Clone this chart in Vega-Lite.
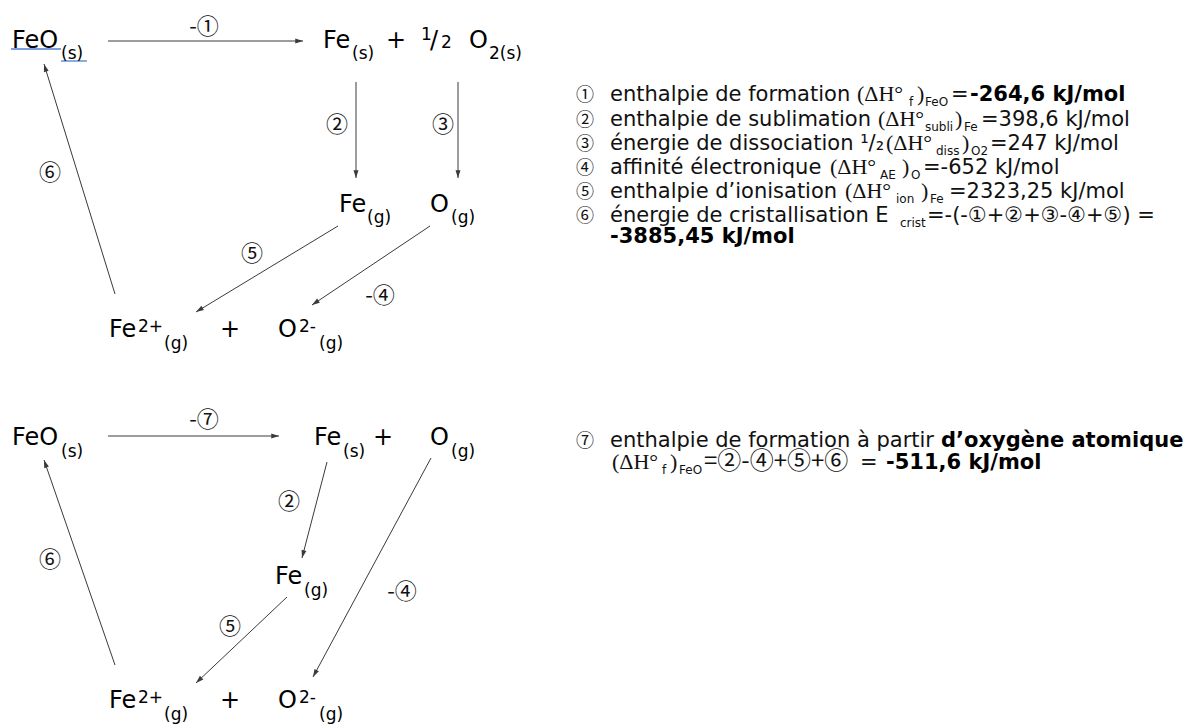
{
  "$schema": "https://vega.github.io/schema/vega-lite/v6.json",
  "width": 1186,
  "height": 724,
  "autosize": {"type": "fit", "contains": "padding"},
  "padding": 0,
  "background": "white",
  "config": {"view": {"stroke": null}},
  "datasets": {
    "t": [
      {"k": "big", "x": 12, "y": 48, "t": "FeO"},
      {"k": "sub", "x": 61, "y": 59, "t": "(s)"},
      {"k": "big", "x": 323, "y": 48, "t": "Fe"},
      {"k": "sub", "x": 352, "y": 59, "t": "(s)"},
      {"k": "big", "x": 386, "y": 48, "t": "+"},
      {"k": "sub", "x": 421, "y": 40, "t": "1"},
      {"k": "big", "x": 430, "y": 48, "t": "/"},
      {"k": "sub", "x": 441, "y": 48, "t": "2"},
      {"k": "big", "x": 469, "y": 48, "t": "O"},
      {"k": "sub", "x": 489, "y": 59, "t": "2(s)"},
      {"k": "big", "x": 339, "y": 212, "t": "Fe"},
      {"k": "sub", "x": 367, "y": 223, "t": "(g)"},
      {"k": "big", "x": 430, "y": 212, "t": "O"},
      {"k": "sub", "x": 451, "y": 223, "t": "(g)"},
      {"k": "big", "x": 109, "y": 337, "t": "Fe"},
      {"k": "sub", "x": 138, "y": 332, "t": "2+"},
      {"k": "sub", "x": 164, "y": 349, "t": "(g)"},
      {"k": "big", "x": 220, "y": 337, "t": "+"},
      {"k": "big", "x": 278, "y": 337, "t": "O"},
      {"k": "sub", "x": 299, "y": 332, "t": "2-"},
      {"k": "sub", "x": 319, "y": 349, "t": "(g)"},
      {"k": "lbl", "x": 204, "y": 27, "t": "-①"},
      {"k": "lbl", "x": 337, "y": 125, "t": "②"},
      {"k": "lbl", "x": 443, "y": 125, "t": "③"},
      {"k": "lbl", "x": 252, "y": 254, "t": "⑤"},
      {"k": "lbl", "x": 380, "y": 296, "t": "-④"},
      {"k": "lbl", "x": 50, "y": 173, "t": "⑥"},

      {"k": "big", "x": 12, "y": 445, "t": "FeO"},
      {"k": "sub", "x": 61, "y": 457, "t": "(s)"},
      {"k": "big", "x": 314, "y": 445, "t": "Fe"},
      {"k": "sub", "x": 343, "y": 457, "t": "(s)"},
      {"k": "big", "x": 373, "y": 445, "t": "+"},
      {"k": "big", "x": 430, "y": 445, "t": "O"},
      {"k": "sub", "x": 451, "y": 457, "t": "(g)"},
      {"k": "big", "x": 275, "y": 584, "t": "Fe"},
      {"k": "sub", "x": 304, "y": 596, "t": "(g)"},
      {"k": "big", "x": 109, "y": 708, "t": "Fe"},
      {"k": "sub", "x": 138, "y": 703, "t": "2+"},
      {"k": "sub", "x": 164, "y": 720, "t": "(g)"},
      {"k": "big", "x": 220, "y": 708, "t": "+"},
      {"k": "big", "x": 278, "y": 708, "t": "O"},
      {"k": "sub", "x": 299, "y": 703, "t": "2-"},
      {"k": "sub", "x": 319, "y": 720, "t": "(g)"},
      {"k": "lbl", "x": 204, "y": 420, "t": "-⑦"},
      {"k": "lbl", "x": 289, "y": 502, "t": "②"},
      {"k": "lbl", "x": 402, "y": 592, "t": "-④"},
      {"k": "lbl", "x": 230, "y": 627, "t": "⑤"},
      {"k": "lbl", "x": 50, "y": 560, "t": "⑥"},

      {"k": "cir", "x": 576, "y": 101, "t": "①"},
      {"k": "txt", "x": 610, "y": 101, "t": "enthalpie de formation"},
      {"k": "ser", "x": 857, "y": 101, "t": "(ΔH°"},
      {"k": "tsub", "x": 909, "y": 106, "t": "f"},
      {"k": "ser", "x": 917, "y": 101, "t": ")"},
      {"k": "tsub", "x": 925, "y": 106, "t": "FeO"},
      {"k": "txt", "x": 951, "y": 101, "t": "="},
      {"k": "txtb", "x": 970, "y": 101, "t": "-264,6 kJ/mol"},

      {"k": "cir", "x": 576, "y": 126, "t": "②"},
      {"k": "txt", "x": 610, "y": 126, "t": "enthalpie de sublimation"},
      {"k": "ser", "x": 878, "y": 126, "t": "(ΔH°"},
      {"k": "tsub", "x": 925, "y": 131, "t": "subli"},
      {"k": "ser", "x": 955, "y": 126, "t": ")"},
      {"k": "tsub", "x": 964, "y": 131, "t": "Fe"},
      {"k": "txt", "x": 981, "y": 126, "t": "=398,6 kJ/mol"},

      {"k": "cir", "x": 576, "y": 150, "t": "③"},
      {"k": "txt", "x": 610, "y": 150, "t": "énergie de dissociation ¹/₂"},
      {"k": "ser", "x": 886, "y": 150, "t": "(ΔH°"},
      {"k": "tsub", "x": 936, "y": 155, "t": "diss"},
      {"k": "ser", "x": 962, "y": 150, "t": ")"},
      {"k": "tsub", "x": 971, "y": 155, "t": "O2"},
      {"k": "txt", "x": 990, "y": 150, "t": "=247 kJ/mol"},

      {"k": "cir", "x": 576, "y": 174, "t": "④"},
      {"k": "txt", "x": 610, "y": 174, "t": "affinité électronique"},
      {"k": "ser", "x": 830, "y": 174, "t": "(ΔH°"},
      {"k": "tsub", "x": 880, "y": 179, "t": "AE"},
      {"k": "ser", "x": 902, "y": 174, "t": ")"},
      {"k": "tsub", "x": 911, "y": 179, "t": "O"},
      {"k": "txt", "x": 923, "y": 174, "t": "=-652 kJ/mol"},

      {"k": "cir", "x": 576, "y": 198, "t": "⑤"},
      {"k": "txt", "x": 610, "y": 198, "t": "enthalpie d’ionisation"},
      {"k": "ser", "x": 845, "y": 198, "t": "(ΔH°"},
      {"k": "tsub", "x": 896, "y": 203, "t": "ion"},
      {"k": "ser", "x": 921, "y": 198, "t": ")"},
      {"k": "tsub", "x": 930, "y": 203, "t": "Fe"},
      {"k": "txt", "x": 949, "y": 198, "t": "=2323,25 kJ/mol"},

      {"k": "cir", "x": 576, "y": 222, "t": "⑥"},
      {"k": "txt", "x": 610, "y": 222, "t": "énergie de cristallisation E"},
      {"k": "tsub", "x": 900, "y": 227, "t": "crist"},
      {"k": "txt", "x": 927, "y": 222, "t": "=-(-①+②+③-④+⑤) ="},
      {"k": "txtb", "x": 610, "y": 243, "t": "-3885,45 kJ/mol"},

      {"k": "cir", "x": 576, "y": 447, "t": "⑦"},
      {"k": "txt", "x": 610, "y": 447, "t": "enthalpie de formation à partir"},
      {"k": "txtb", "x": 941, "y": 447, "t": "d’oxygène atomique"},
      {"k": "ser", "x": 612, "y": 469, "t": "(ΔH°"},
      {"k": "tsub", "x": 662, "y": 474, "t": "f"},
      {"k": "ser", "x": 670, "y": 469, "t": ")"},
      {"k": "tsub", "x": 679, "y": 474, "t": "FeO"},
      {"k": "frm", "x": 704, "y": 469, "t": "=②-④+⑤+⑥"},
      {"k": "txt", "x": 860, "y": 469, "t": "="},
      {"k": "txtb", "x": 886, "y": 469, "t": "-511,6 kJ/mol"}
    ],
    "a": [
      {"x": 108, "y": 41, "x2": 303, "y2": 41},
      {"x": 356, "y": 82, "x2": 356, "y2": 178},
      {"x": 458, "y": 82, "x2": 458, "y2": 178},
      {"x": 338, "y": 226, "x2": 196, "y2": 312},
      {"x": 430, "y": 226, "x2": 312, "y2": 305},
      {"x": 115, "y": 294, "x2": 44, "y2": 64},
      {"x": 108, "y": 436, "x2": 279, "y2": 436},
      {"x": 327, "y": 462, "x2": 302, "y2": 558},
      {"x": 431, "y": 458, "x2": 313, "y2": 677},
      {"x": 287, "y": 597, "x2": 196, "y2": 683},
      {"x": 115, "y": 665, "x2": 44, "y2": 460}
    ],
    "u": [
      {"x": 11, "y": 49, "x2": 61, "y2": 49},
      {"x": 61, "y": 61, "x2": 87, "y2": 61}
    ]
  },
  "encoding": {
    "x": {"field": "x", "type": "quantitative", "scale": {"domain": [0, 1186], "nice": false, "zero": false}, "axis": null},
    "y": {"field": "y", "type": "quantitative", "scale": {"domain": [0, 724], "reverse": true, "nice": false, "zero": false}, "axis": null}
  },
  "layer": [
    {
      "data": {"name": "u"},
      "mark": {"type": "rule", "color": "#4f7fd6", "strokeWidth": 1.3},
      "encoding": {"x2": {"field": "x2"}, "y2": {"field": "y2"}}
    },
    {
      "data": {"name": "a"},
      "mark": {"type": "rule", "color": "#3a3a3a", "strokeWidth": 1},
      "encoding": {"x2": {"field": "x2"}, "y2": {"field": "y2"}}
    },
    {
      "data": {"name": "a"},
      "transform": [{"calculate": "atan2(datum.x2 - datum.x, datum.y - datum.y2) * 180 / PI", "as": "ang"}],
      "mark": {"type": "point", "shape": "M0,0L-0.7,2.2L0.7,2.2Z", "size": 50, "filled": true, "color": "#3a3a3a", "opacity": 1, "strokeWidth": 0},
      "encoding": {
        "x": {"field": "x2", "type": "quantitative"},
        "y": {"field": "y2", "type": "quantitative"},
        "angle": {"field": "ang", "type": "quantitative", "scale": null}
      }
    },
    {
      "data": {"name": "t"},
      "transform": [{"filter": "datum.k == 'big'"}],
      "mark": {"type": "text", "align": "left", "baseline": "alphabetic", "font": "DejaVu Sans", "fontSize": 24, "color": "#000"},
      "encoding": {"text": {"field": "t"}}
    },
    {
      "data": {"name": "t"},
      "transform": [{"filter": "datum.k == 'sub'"}],
      "mark": {"type": "text", "align": "left", "baseline": "alphabetic", "font": "DejaVu Sans", "fontSize": 17, "color": "#000"},
      "encoding": {"text": {"field": "t"}}
    },
    {
      "data": {"name": "t"},
      "transform": [{"filter": "datum.k == 'lbl'"}],
      "mark": {"type": "text", "align": "center", "baseline": "middle", "font": "Noto Sans CJK JP", "fontSize": 22, "color": "#111"},
      "encoding": {"text": {"field": "t"}}
    },
    {
      "data": {"name": "t"},
      "transform": [{"filter": "datum.k == 'cir'"}],
      "mark": {"type": "text", "align": "left", "baseline": "alphabetic", "font": "Noto Sans CJK JP", "fontSize": 18, "color": "#111"},
      "encoding": {"text": {"field": "t"}}
    },
    {
      "data": {"name": "t"},
      "transform": [{"filter": "datum.k == 'frm'"}],
      "mark": {"type": "text", "align": "left", "baseline": "alphabetic", "font": "Noto Sans CJK JP", "fontSize": 24, "color": "#111"},
      "encoding": {"text": {"field": "t"}}
    },
    {
      "data": {"name": "t"},
      "transform": [{"filter": "datum.k == 'txt'"}],
      "mark": {"type": "text", "align": "left", "baseline": "alphabetic", "font": "DejaVu Sans", "fontSize": 21, "color": "#111"},
      "encoding": {"text": {"field": "t"}}
    },
    {
      "data": {"name": "t"},
      "transform": [{"filter": "datum.k == 'txtb'"}],
      "mark": {"type": "text", "align": "left", "baseline": "alphabetic", "font": "DejaVu Sans", "fontSize": 21, "fontWeight": "bold", "color": "#000"},
      "encoding": {"text": {"field": "t"}}
    },
    {
      "data": {"name": "t"},
      "transform": [{"filter": "datum.k == 'ser'"}],
      "mark": {"type": "text", "align": "left", "baseline": "alphabetic", "font": "Liberation Serif", "fontSize": 22, "color": "#111"},
      "encoding": {"text": {"field": "t"}}
    },
    {
      "data": {"name": "t"},
      "transform": [{"filter": "datum.k == 'tsub'"}],
      "mark": {"type": "text", "align": "left", "baseline": "alphabetic", "font": "DejaVu Sans", "fontSize": 12, "color": "#111"},
      "encoding": {"text": {"field": "t"}}
    }
  ]
}
